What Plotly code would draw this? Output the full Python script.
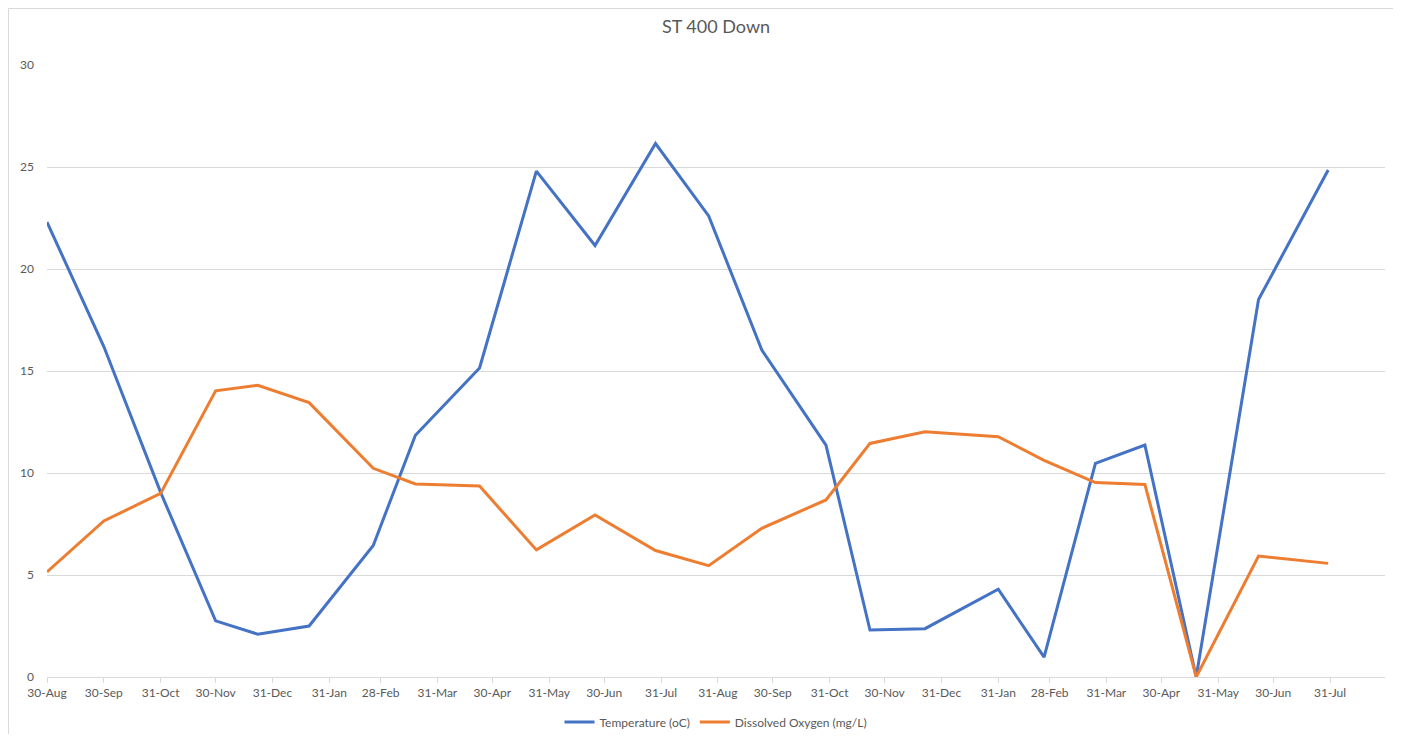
import plotly.graph_objects as go

dates = [
    "2020-08-30", "2020-09-30", "2020-10-31", "2020-11-30", "2020-12-23", "2021-01-20",
    "2021-02-24", "2021-03-19", "2021-04-23", "2021-05-24", "2021-06-25", "2021-07-28",
    "2021-08-26", "2021-09-24", "2021-10-29", "2021-11-22", "2021-12-22", "2022-01-31",
    "2022-02-25", "2022-03-25", "2022-04-21", "2022-05-19", "2022-06-22", "2022-07-30",
]
temperature = [
    22.3, 16.2, 9.05, 2.75, 2.1, 2.5,
    6.45, 11.85, 15.15, 24.8, 21.15, 26.15,
    22.6, 16.03, 11.37, 2.3, 2.37, 4.3,
    0.97, 10.47, 11.37, 0.0, 18.5, 24.85,
]
dissolved_oxygen = [
    5.15, 7.65, 9.0, 14.03, 14.3, 13.45,
    10.23, 9.46, 9.36, 6.23, 7.94, 6.2,
    5.46, 7.29, 8.68, 11.45, 12.02, 11.78,
    10.62, 9.53, 9.44, 0.0, 5.93, 5.57,
]

tick_dates = [
    "2020-08-30", "2020-09-30", "2020-10-31", "2020-11-30", "2020-12-31", "2021-01-31",
    "2021-02-28", "2021-03-31", "2021-04-30", "2021-05-31", "2021-06-30", "2021-07-31",
    "2021-08-31", "2021-09-30", "2021-10-31", "2021-11-30", "2021-12-31", "2022-01-31",
    "2022-02-28", "2022-03-31", "2022-04-30", "2022-05-31", "2022-06-30", "2022-07-31",
]
tick_labels = [
    "30-Aug", "30-Sep", "31-Oct", "30-Nov", "31-Dec", "31-Jan",
    "28-Feb", "31-Mar", "30-Apr", "31-May", "30-Jun", "31-Jul",
    "31-Aug", "30-Sep", "31-Oct", "30-Nov", "31-Dec", "31-Jan",
    "28-Feb", "31-Mar", "30-Apr", "31-May", "30-Jun", "31-Jul",
]
y_ticks = [0, 5, 10, 15, 20, 25, 30]

FONT = "Lato, 'Open Sans', sans-serif"
GRAY = "#595959"
GRID = "#D9D9D9"

fig = go.Figure()
fig.add_trace(go.Scatter(
    x=dates, y=temperature, mode="lines", name="Temperature (oC)",
    line=dict(color="#4472C4", width=3),
))
fig.add_trace(go.Scatter(
    x=dates, y=dissolved_oxygen, mode="lines", name="Dissolved Oxygen (mg/L)",
    line=dict(color="#ED7D31", width=3),
))

# page has an 8px body margin; figure sized to fit the 1401x742 viewport
OFF = 8
W, H = 1401 - 2 * OFF, 742 - 2 * OFF
ML, MT = 47 - OFF, 65 - OFF
MR = W - (1385 - OFF)
MB = H - (677 - OFF)
pw = W - ML - MR
ph = H - MT - MB

fig.update_layout(
    width=W, height=H,
    autosize=False,
    margin=dict(l=ML, r=MR, t=MT, b=MB, autoexpand=False),
    paper_bgcolor="white", plot_bgcolor="white",
    font=dict(family=FONT, size=12, color=GRAY),
    title=dict(text="ST 400 Down", x=0.5, xanchor="center", xref="paper",
               y=1 - (27 - OFF) / H, yanchor="middle",
               font=dict(family=FONT, size=18, color=GRAY)),
    showlegend=True,
    legend=dict(orientation="h", x=0.5, xanchor="center", y=-(722 - 677) / ph, yanchor="middle",
                font=dict(family=FONT, size=12, color=GRAY), itemwidth=30, tracegroupgap=0),
    xaxis=dict(
        type="date", range=["2020-08-30", "2022-08-30"],
        tickmode="array", tickvals=tick_dates, ticktext=tick_labels,
        showgrid=False, showline=True, linecolor=GRID, linewidth=1,
        ticks="outside", ticklen=5, tickcolor=GRID, tickwidth=1,
        tickfont=dict(family=FONT, size=12, color=GRAY), zeroline=False,
    ),
    yaxis=dict(
        range=[0, 30], tickmode="array", tickvals=y_ticks,
        showgrid=True, gridcolor=GRID, gridwidth=1, zeroline=False,
        showline=False, ticks="", ticklabelstandoff=12,
        tickfont=dict(family=FONT, size=12, color=GRAY),
    ),
)

# chart-area border: only top and left edges are visible in the reference
x_left = (0.5 - ML) / pw
y_top = 1 + (MT - 0.5) / ph
y_bottom = -(MB + 5) / ph
x_right = (W + 5 - ML) / pw
fig.add_shape(type="line", xref="paper", yref="paper",
              x0=x_left, x1=x_right, y0=y_top, y1=y_top,
              line=dict(color=GRID, width=1), layer="below")
fig.add_shape(type="line", xref="paper", yref="paper",
              x0=x_left, x1=x_left, y0=y_bottom, y1=y_top,
              line=dict(color=GRID, width=1), layer="below")

fig.write_html("out.html")
